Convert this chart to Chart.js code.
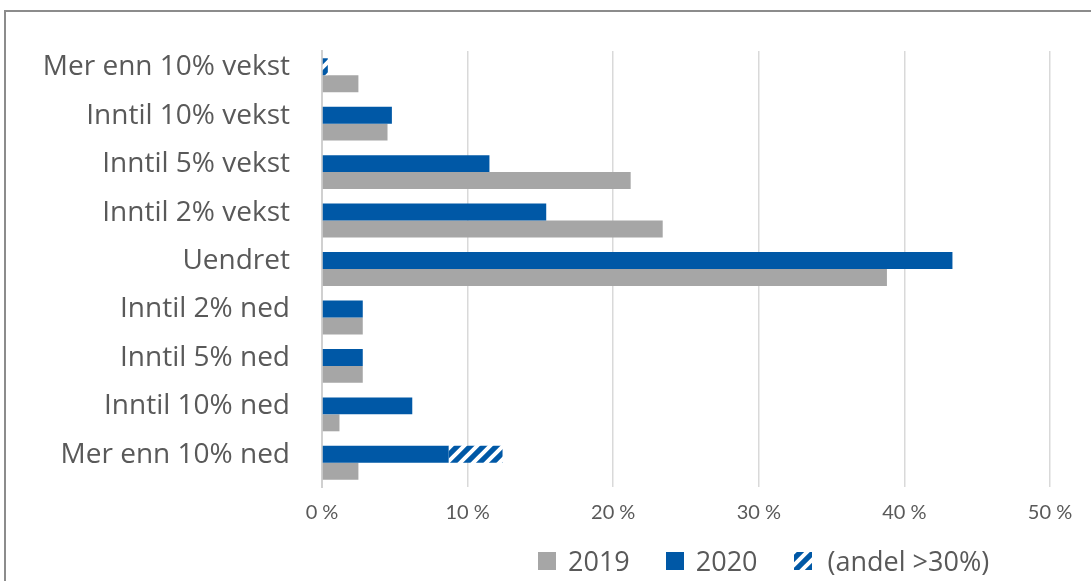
<!DOCTYPE html>
<html lang="no">
<head>
  <meta charset="UTF-8">
  <title>Endring</title>
  <script src="https://cdn.jsdelivr.net/npm/chart.js"></script>
  <style>
    body { margin: 0; background: #fff; font-family: "Open Sans", sans-serif; }
    #wrap { position: relative; width: 1091px; height: 581px; overflow: hidden; }
    #frame { position: absolute; left: 4px; top: 10px; width: 1200px; height: 700px; border: 2px solid #8c8c8c; box-sizing: border-box; }
    #chartBox { position: absolute; left: 0; top: 0; width: 1091px; height: 581px; }
    #legend { position: absolute; top: 542px; left: 538px; display: flex; align-items: center; font-size: 27px; color: #595959; }
    .item { display: flex; align-items: center; margin-right: 36px; }
    .sw { width: 18px; height: 18px; margin-right: 12px; }
  </style>
</head>
<body>
  <div id="wrap">
    <div id="frame"></div>
    <div id="chartBox"><canvas id="chart"></canvas></div>
    <div id="legend"></div>
  </div>
  <script>
    const categories = ['Mer enn 10% vekst', 'Inntil 10% vekst', 'Inntil 5% vekst', 'Inntil 2% vekst',
      'Uendret', 'Inntil 2% ned', 'Inntil 5% ned', 'Inntil 10% ned', 'Mer enn 10% ned'];
    const values2019 = [2.5, 4.5, 21.2, 23.4, 38.8, 2.8, 2.8, 1.2, 2.5];
    const values2020 = [0, 4.8, 11.5, 15.4, 43.3, 2.8, 2.8, 6.2, 8.7];
    const valuesAndel = [0.4, 0, 0, 0, 0, 0, 0, 0, 3.7];
    const xTicks = [0, 10, 20, 30, 40, 50];

    const blue = '#0058a6';
    const grey = '#a6a6a6';

    // skravert mønster for andel >30%
    function makeHatch() {
      const n = 13;
      const c = document.createElement('canvas');
      c.width = n; c.height = n;
      const g = c.getContext('2d');
      g.fillStyle = blue;
      g.fillRect(0, 0, n, n);
      g.strokeStyle = '#ffffff';
      g.lineWidth = 4;
      g.beginPath();
      g.moveTo(-3, n + 3); g.lineTo(n + 3, -3);
      g.moveTo(-3, 3); g.lineTo(3, -3);
      g.moveTo(n - 3, n + 3); g.lineTo(n + 3, n - 3);
      g.stroke();
      return g.createPattern(c, 'repeat');
    }
    const hatch = makeHatch();

    const ctx = document.getElementById('chart').getContext('2d');
    new Chart(ctx, {
      type: 'bar',
      data: {
        labels: categories,
        datasets: [
          { label: '2020', data: values2020, backgroundColor: blue, stack: 'b' },
          { label: '(andel >30%)', data: valuesAndel, backgroundColor: hatch, stack: 'b' },
          { label: '2019', data: values2019, backgroundColor: grey, stack: 'a' }
        ]
      },
      options: {
        indexAxis: 'y',
        responsive: true,
        maintainAspectRatio: false,
        animation: false,
        layout: { padding: { top: 51, right: 41, bottom: 42, left: 0 } },
        datasets: { bar: { categoryPercentage: 0.7, barPercentage: 1.0 } },
        scales: {
          x: {
            stacked: true,
            min: 0, max: 50,
            afterBuildTicks: s => { s.ticks = xTicks.map(v => ({ value: v })); },
            ticks: {
              callback: v => v + ' %',
              color: '#595959',
              font: { family: 'Lato', size: 20 },
              padding: 14
            },
            grid: { color: '#d9d9d9', lineWidth: 1.5, drawTicks: false },
            border: { display: false }
          },
          y: {
            afterFit: s => { s.width = 322; },
            ticks: {
              color: '#595959',
              font: { family: 'Open Sans', size: 28 },
              padding: 32,
              labelOffset: -8,
              autoSkip: false
            },
            grid: { display: false, drawTicks: false },
            border: { display: true, color: '#d0d0d0', width: 2 }
          }
        },
        plugins: {
          legend: { display: false },
          tooltip: { enabled: false }
        }
      }
    });

    // legend
    const legend = document.getElementById('legend');
    [['2019', grey], ['2020', blue], ['(andel >30%)', null]].forEach(([txt, col]) => {
      const item = document.createElement('div');
      item.className = 'item';
      const sw = document.createElement('canvas');
      sw.className = 'sw';
      sw.width = 18; sw.height = 18;
      const g = sw.getContext('2d');
      g.fillStyle = col || hatch;
      g.fillRect(0, 0, 18, 18);
      item.appendChild(sw);
      const span = document.createElement('span');
      span.textContent = txt;
      if (!col) span.style.marginLeft = '4px';
      item.appendChild(span);
      legend.appendChild(item);
    });
  </script>
</body>
</html>
